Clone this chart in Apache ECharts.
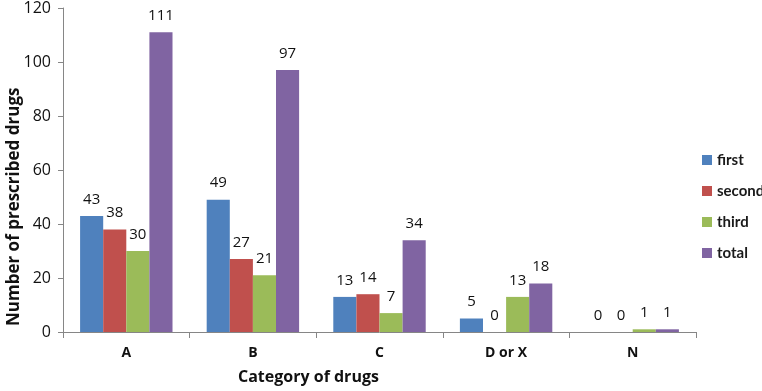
<!DOCTYPE html>
<html>
<head>
<meta charset="utf-8">
<script src="https://cdn.jsdelivr.net/npm/echarts@6/dist/echarts.min.js"></script>
<style>
  html, body { margin: 0; padding: 0; background: #fff; }
  #chart { width: 762px; height: 391px; }
</style>
</head>
<body>
<div id="chart"></div>
<script>
// categories and values
const categories = ['A', 'B', 'C', 'D or X', 'N']
const first = [43, 49, 13, 5, 0]
const second = [38, 27, 14, 0, 0]
const third = [30, 21, 7, 13, 1]
const total = [111, 97, 34, 18, 1]
const seriesNames = ['first', 'second', 'third', 'total']
const colors = ['#4F81BD', '#C0504D', '#9BBB59', '#8064A2']

const font = '"Open Sans", sans-serif'
const chart = echarts.init(document.getElementById('chart'))

function bar(name, data, color) {
  return {
    name,
    type: 'bar',
    data,
    barGap: '0%',
    barCategoryGap: '27%',
    itemStyle: { color },
    label: {
      show: true,
      position: 'top',
      distance: 9,
      color: '#111',
      fontSize: 15,
      fontFamily: font,
    },
  }
}

chart.setOption({
  backgroundColor: '#fff',
  animation: false,
  color: colors,
  grid: { left: 63, right: 66, top: 6, bottom: 59 },
  legend: {
    orient: 'vertical',
    left: 697,
    top: 146,
    itemWidth: 10,
    itemHeight: 10,
    itemGap: 13,
    icon: 'rect',
    textStyle: { fontSize: 15, fontWeight: 'bold', color: '#1a1a1a', fontFamily: 'Lato, sans-serif', lineHeight: 18 },
    data: seriesNames,
  },
  // axis titles sit off-centre in the reference, so place them directly
  graphic: [
    {
      type: 'text',
      left: 238,
      top: 369,
      style: { text: 'Category of drugs', fontSize: 16, fontWeight: 'bold', fill: '#111', fontFamily: font },
    },
    {
      type: 'text',
      x: 6,
      y: 326,
      rotation: Math.PI / 2,
      style: { text: 'Number of prescribed drugs', fontSize: 17, fontWeight: 'bold', fill: '#111', fontFamily: font },
    },
  ],
  xAxis: {
    type: 'category',
    data: categories,
    axisLine: { lineStyle: { color: '#868686' } },
    axisTick: { show: true, length: 6, lineStyle: { color: '#868686' } },
    axisLabel: { fontSize: 14, fontWeight: 'bold', color: '#111', margin: 14, fontFamily: font },
  },
  yAxis: {
    type: 'value',
    min: 0,
    max: 120,
    interval: 20,
    axisLine: { show: true, lineStyle: { color: '#868686' } },
    axisTick: { show: true, length: 5, lineStyle: { color: '#868686' } },
    splitLine: { show: false },
    axisLabel: { fontSize: 16, color: '#111', margin: 12, fontFamily: font },
  },
  series: [
    bar(seriesNames[0], first, colors[0]),
    bar(seriesNames[1], second, colors[1]),
    bar(seriesNames[2], third, colors[2]),
    bar(seriesNames[3], total, colors[3]),
  ],
})
</script>
</body>
</html>
